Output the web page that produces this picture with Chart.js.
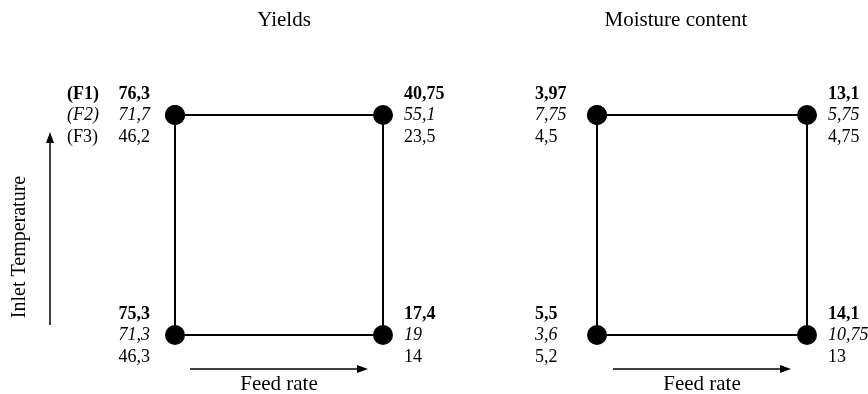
<!DOCTYPE html>
<html>
<head>
<meta charset="utf-8">
<script src="https://cdn.jsdelivr.net/npm/chart.js@4"></script>
<style>
  html, body { margin: 0; padding: 0; background: #fff; }
  #wrap { position: relative; width: 868px; height: 394px; overflow: hidden; }
  canvas { position: absolute; top: 0; }
  #cYield { left: 0; }
  #cMoist { left: 434px; }
</style>
</head>
<body>
<div id="wrap">
  <canvas id="cYield" width="520" height="394"></canvas>
  <canvas id="cMoist" width="434" height="394"></canvas>
</div>
<script>
// Coded factor levels of the four runs: top-left, top-right, bottom-left, bottom-right
const feedRate  = [-1, 1, -1, 1];
const inletTemp = [ 1, 1, -1, -1];

// Formulation tags
const formulations = ['(F1)', '(F2)', '(F3)'];

// Yields per formulation, same run order
const yieldsF1 = [76.3, 40.75, 75.3, 17.4];
const yieldsF2 = [71.7, 55.1, 71.3, 19];
const yieldsF3 = [46.2, 23.5, 46.3, 14];

// Moisture content per formulation, same run order
const moistureF1 = [3.97, 13.1, 5.5, 14.1];
const moistureF2 = [7.75, 5.75, 3.6, 10.75];
const moistureF3 = [4.5, 4.75, 5.2, 13];

const FONT = "'Liberation Serif', 'DejaVu Serif', serif";
const rowStyles = ['bold', 'italic', 'normal'];
const fmt = v => String(v).replace('.', ',');

function arrow(ctx, x1, y1, x2, y2) {
  const ang = Math.atan2(y2 - y1, x2 - x1);
  const len = 11, half = 4;
  ctx.beginPath();
  ctx.moveTo(x1, y1);
  ctx.lineTo(x2 - Math.cos(ang) * len * 0.8, y2 - Math.sin(ang) * len * 0.8);
  ctx.lineWidth = 1.5;
  ctx.strokeStyle = '#000';
  ctx.stroke();
  ctx.beginPath();
  ctx.moveTo(x2, y2);
  ctx.lineTo(x2 - Math.cos(ang) * len - Math.sin(ang) * half, y2 - Math.sin(ang) * len + Math.cos(ang) * half);
  ctx.lineTo(x2 - Math.cos(ang) * len + Math.sin(ang) * half, y2 - Math.sin(ang) * len - Math.cos(ang) * half);
  ctx.closePath();
  ctx.fillStyle = '#000';
  ctx.fill();
}

function annotations(cfg) {
  return {
    id: 'cornerText',
    afterDraw(chart) {
      const ctx = chart.ctx;
      const xs = chart.scales.x, ys = chart.scales.y;
      const xL = xs.getPixelForValue(-1), xR = xs.getPixelForValue(1);
      const yB = ys.getPixelForValue(-1);
      const xMid = (xL + xR) / 2;
      ctx.save();
      ctx.fillStyle = '#000';

      // panel title
      ctx.font = `21px ${FONT}`;
      ctx.textAlign = 'center';
      ctx.textBaseline = 'alphabetic';
      ctx.fillText(cfg.title, cfg.titleX, 26);

      // values at each corner, one row per formulation
      ctx.textBaseline = 'middle';
      const rowDy = [-21, 0, 22];
      for (let i = 0; i < feedRate.length; i++) {
        const px = xs.getPixelForValue(feedRate[i]);
        const py = ys.getPixelForValue(inletTemp[i]);
        cfg.series.forEach((vals, r) => {
          ctx.font = `${rowStyles[r]} 18px ${FONT}`;
          if (feedRate[i] < 0) {
            ctx.textAlign = cfg.leftAlign;
            ctx.fillText(fmt(vals[i]), px + cfg.leftOffset, py + rowDy[r]);
            if (cfg.tags && inletTemp[i] > 0) {
              ctx.textAlign = 'left';
              ctx.fillText(formulations[r], 67, py + rowDy[r]);
            }
          } else {
            ctx.textAlign = 'left';
            ctx.fillText(fmt(vals[i]), px + 21, py + rowDy[r]);
          }
        });
      }

      // feed rate direction
      arrow(ctx, xMid - 89, yB + 34, xMid + 89, yB + 34);
      ctx.font = `21px ${FONT}`;
      ctx.textAlign = 'center';
      ctx.textBaseline = 'alphabetic';
      ctx.fillText('Feed rate', xMid, yB + 55);

      // inlet temperature direction
      if (cfg.tempAxis) {
        arrow(ctx, 50, 325, 50, 132);
        ctx.save();
        ctx.translate(25, 247);
        ctx.rotate(-Math.PI / 2);
        ctx.font = `20px ${FONT}`;
        ctx.textAlign = 'center';
        ctx.textBaseline = 'alphabetic';
        ctx.fillText('Inlet Temperature', 0, 0);
        ctx.restore();
      }
      ctx.restore();
    }
  };
}

function panel(id, cfg) {
  const outline = [0, 1, 3, 2, 0].map(i => ({ x: feedRate[i], y: inletTemp[i] }));
  new Chart(document.getElementById(id), {
    type: 'scatter',
    data: {
      datasets: [{
        data: outline,
        showLine: true,
        borderColor: '#000',
        borderWidth: 2,
        tension: 0,
        pointRadius: 10,
        pointHoverRadius: 10,
        pointBackgroundColor: '#000',
        pointBorderColor: '#000',
        pointBorderWidth: 0,
        clip: false
      }]
    },
    options: {
      responsive: false,
      animation: false,
      events: [],
      layout: { padding: cfg.padding },
      scales: {
        x: { type: 'linear', min: -1, max: 1, display: false },
        y: { type: 'linear', min: -1, max: 1, display: false }
      },
      plugins: { legend: { display: false }, tooltip: { enabled: false } }
    },
    plugins: [annotations(cfg)]
  });
}

panel('cYield', {
  title: 'Yields', titleX: 284,
  series: [yieldsF1, yieldsF2, yieldsF3],
  leftAlign: 'right', leftOffset: -25,
  tags: true, tempAxis: true,
  padding: { left: 175, right: 137, top: 115, bottom: 59 }
});

panel('cMoist', {
  title: 'Moisture content', titleX: 242,
  series: [moistureF1, moistureF2, moistureF3],
  leftAlign: 'left', leftOffset: -62,
  tags: false, tempAxis: false,
  padding: { left: 163, right: 61, top: 115, bottom: 59 }
});
</script>
</body>
</html>
